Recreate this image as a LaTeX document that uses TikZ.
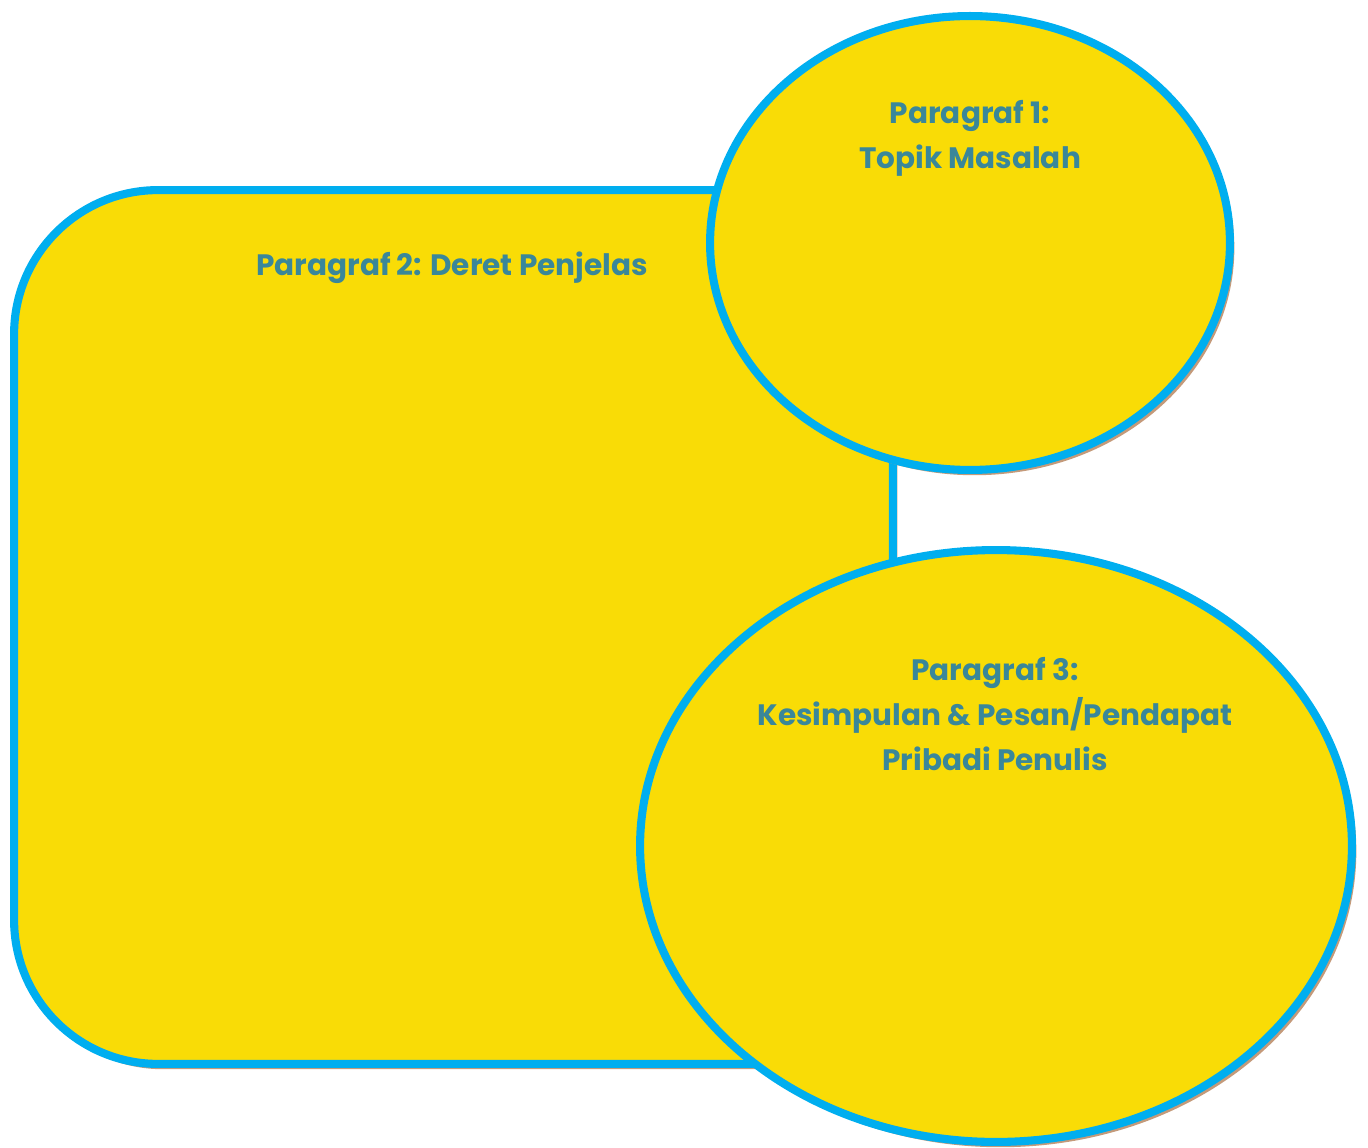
\documentclass[tikz,border=0pt]{standalone}
\usepackage{fontspec}
\setmainfont{Poppins}
\usetikzlibrary{shapes.geometric,shadows}

\definecolor{kuning}{HTML}{F9DC06}
\definecolor{biru}{HTML}{00AEEF}
\definecolor{teks}{HTML}{3A8799}
\definecolor{bayang}{HTML}{C49A7A}

\begin{document}
\begin{tikzpicture}[x=0.02cm,y=-0.02cm,
	bidang/.style={draw=biru,fill=kuning,line width=4.6pt,
		drop shadow={shadow xshift=2.5pt,shadow yshift=-3pt,fill=bayang,opacity=1}},
	judul/.style={text=teks,font=\bfseries\fontsize{16.8}{25.5}\selectfont,align=center}]
			\useasboundingbox (0,0) rectangle (1368,1148);
			
			\node[bidang,rectangle,rounded corners=82pt,minimum width=17.58cm,minimum height=17.48cm] (p2) at (453.5,627) {};
			\node[bidang,ellipse,inner sep=0pt,minimum width=10.4cm,minimum height=9.08cm] (p1) at (970,243) {};
			\node[bidang,ellipse,inner sep=0pt,minimum width=14.24cm,minimum height=11.84cm] (p3) at (996,846) {};
			
			\node[judul] (j2) at (452,268) {Paragraf 2: Deret Penjelas};
			\node[judul] (j1) at (970,138) {Paragraf 1:\\Topik Masalah};
			\node[judul] (j3) at (995,714) {Paragraf 3:\\Kesimpulan \& Pesan/Pendapat\\Pribadi Penulis};
		\end{tikzpicture}
\end{document}
